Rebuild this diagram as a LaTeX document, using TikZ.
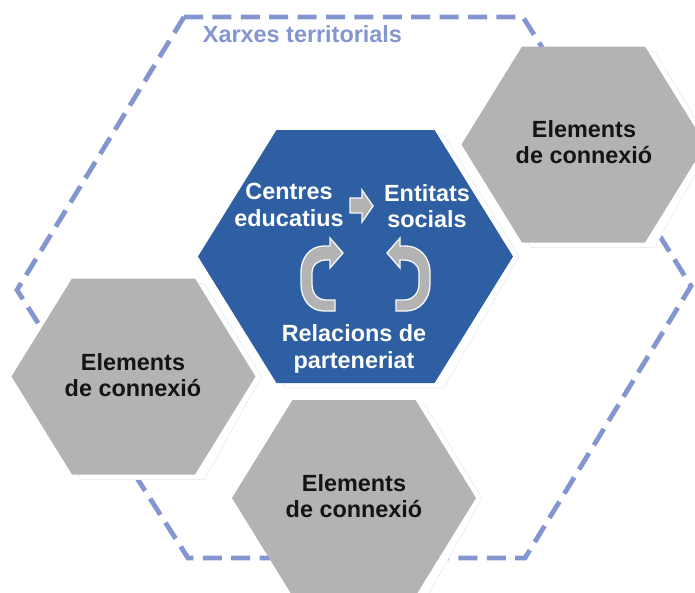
\documentclass[tikz,border=0pt]{standalone}
\usepackage{fontspec}
\setmainfont{Liberation Sans}
\definecolor{hexblue}{HTML}{2E5FA3}
\definecolor{hexgray}{HTML}{B3B3B3}
\definecolor{dashblue}{HTML}{8496D0}
\definecolor{rimblue}{HTML}{E6EEF8}
\newcommand{\hexapath}[5]{(#1-#3,#2) -- (#1-#3+#5,#2-#4) -- (#1+#3-#5,#2-#4) -- (#1+#3,#2) -- (#1+#3-#5,#2+#4) -- (#1-#3+#5,#2+#4) -- cycle}
\newcommand{\hexa}[6]{%
  \draw[rimstyle] \hexapath{#1}{#2}{#3+6}{#4+5}{#5+3.5};
  \fill[#6] \hexapath{#1}{#2}{#3}{#4}{#5};}
\tikzset{
  rimstyle/.style={fill=white,draw=rimblue,line width=0.7pt},
  label text/.style={font=\fontsize{23.4}{26.5}\selectfont\bfseries,align=center,inner sep=0pt},
  dark label/.style={label text,text=black!92},
  light label/.style={label text,text=white},
  flow arrow/.style={fill=hexgray,draw=white!92!hexgray,line width=1.3pt,line join=miter},
}
\begin{document}
\begin{tikzpicture}[x=1pt,y=-1pt]
\clip (0,0) rectangle (695,592);
\fill[white] (0,0) rectangle (695,592);
% dashed outer hexagon
\draw[dashblue,line width=4.8pt,dash pattern=on 19pt off 9.4pt]
  (184,17) -- (523,17) -- (691,286) -- (525,558) -- (188,558) -- (17,290) -- cycle;
\node[label text,text=dashblue] (title) at (302.5,34.5) {Xarxes territorials};
% hexagons
\hexa{355.5}{256.5}{157.5}{126.5}{78.5}{hexblue}
\hexa{583.5}{144.5}{122}{98}{60.5}{hexgray}
\hexa{133.5}{376.5}{122}{98}{60.5}{hexgray}
\hexa{354}{498}{122}{98}{60.5}{hexgray}
% labels
\node[dark label] (connA) at (584,142) {Elements\\de connexió};
\node[dark label] (connB) at (133,375) {Elements\\de connexió};
\node[dark label] (connC) at (354,496) {Elements\\de connexió};
\node[light label] (centres) at (289,205) {Centres\\educatius};
\node[light label] (entitats) at (427,206) {Entitats\\socials};
\node[light label] (relacions) at (354,349) {Relacions de\\parteneriat};
% small arrow
\draw[flow arrow] (350,198) -- (362,198) -- (362,190) -- (373,206) -- (362,222) -- (362,213) -- (350,213) -- cycle;
% curved arrows
\draw[flow arrow] (343,253) -- (330,238) -- (330,246) -- (324,246)
  .. controls (310,246) and (301,258) .. (301,272)
  -- (301,284)
  .. controls (301,299) and (310,311) .. (324,311)
  -- (335,311) -- (335,300) -- (326,300)
  .. controls (317,300) and (312,293) .. (312,284)
  -- (312,272)
  .. controls (312,265) and (318,260) .. (326,260)
  -- (330,260) -- (330,268) -- cycle;
\draw[flow arrow] (387,253) -- (400,238) -- (400,246) -- (406,246)
  .. controls (420,246) and (430,258) .. (430,272)
  -- (430,284)
  .. controls (430,299) and (420,311) .. (406,311)
  -- (396,311) -- (396,300) -- (404,300)
  .. controls (413,300) and (419,293) .. (419,284)
  -- (419,272)
  .. controls (419,265) and (412,260) .. (404,260)
  -- (400,260) -- (400,268) -- cycle;
\end{tikzpicture}
\end{document}
